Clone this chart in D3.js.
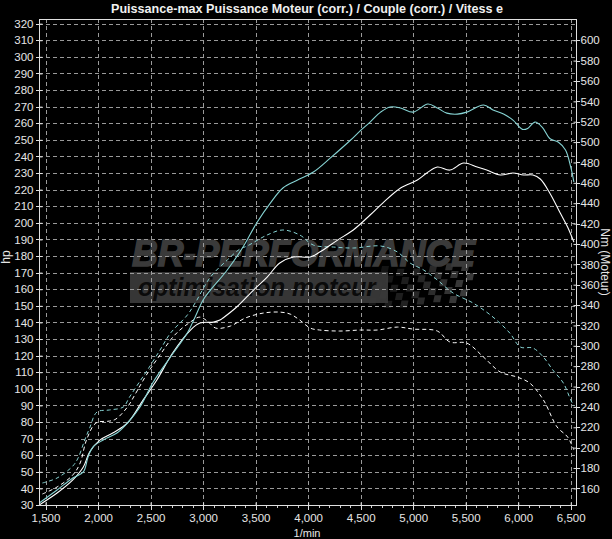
<!DOCTYPE html>
<html><head><meta charset="utf-8">
<script src="https://cdn.jsdelivr.net/npm/d3@7"></script>
<style>html,body{margin:0;padding:0;background:#000;} svg{display:block;}</style>
</head><body><svg id="c" width="612" height="539"></svg>
<script>
// ---- data ----
const rpmTicks = [1500,2000,2500,3000,3500,4000,4500,5000,5500,6000,6500];
const rpmLabels = ["1,500","2,000","2,500","3,000","3,500","4,000","4,500","5,000","5,500","6,000","6,500"];
const hpTicks = [30,40,50,60,70,80,90,100,110,120,130,140,150,160,170,180,190,200,210,220,230,240,250,260,270,280,290,300,310,320];
const nmTicks = [160,180,200,220,240,260,280,300,320,340,360,380,400,420,440,460,480,500,520,540,560,580,600];

// Power (hp) – modified run (cyan solid)
const power1Rpm = [1440,1610,1760,1860,1905,1950,2050,2180,2280,2400,2520,2690,2850,2920,3000,3070,3230,3380,3510,3640,3760,3900,4050,4210,4400,4500,4590,4690,4780,4880,5000,5140,5230,5320,5420,5510,5670,5760,5860,5950,6040,6090,6160,6230,6300,6380,6450,6500,6530];
const power1Hp  = [31.2,39.0,46.3,49.9,58.9,64.9,69.2,73.4,79.4,89.0,103.5,119.2,133.6,142.7,153.5,159.5,171.6,185.4,199.9,211.9,221.0,225.8,230.6,239.0,249.6,255.7,260.7,266.7,269.8,269.2,266.7,271.6,269.2,266.1,265.5,266.7,271.0,268.0,265.5,261.9,256.3,256.9,260.7,257.5,250.8,248.7,243.9,233.6,224.6];

// Power (hp) – original run (white solid)
const power2Rpm = [1440,1610,1760,1860,1920,2020,2140,2280,2430,2560,2710,2880,2970,3100,3160,3190,3320,3480,3610,3730,3860,4020,4110,4280,4430,4590,4710,4880,5040,5130,5230,5350,5480,5610,5700,5830,5950,6050,6140,6210,6300,6400,6470,6530];
const power2Hp  = [30.0,37.2,45.1,52.9,61.9,69.2,73.4,79.4,93.3,105.3,121.6,135.4,139.6,140.2,141.4,142.7,149.3,159.5,167.3,175.8,179.4,179.4,182.4,189.6,195.7,204.7,211.9,221.0,225.8,230.0,233.6,231.8,236.0,233.6,231.8,228.8,230.0,228.8,228.8,226.4,218.0,205.9,197.5,188.4];

// Torque (Nm) – modified run (cyan dashed)
const torque1Rpm = [1470,1610,1760,1810,1870,1920,1990,2110,2240,2300,2400,2470,2590,2690,2850,2930,3070,3230,3350,3420,3610,3760,3920,4050,4240,4430,4690,4850,4970,5100,5230,5380,5570,5760,5920,6020,6140,6240,6330,6430,6500,6530];
const torque1Nm  = [165.3,170.2,182.0,189.8,206.5,219.3,235.0,237.0,239.9,249.7,265.4,276.2,295.8,312.5,330.2,343.0,367.5,384.2,395.0,398.0,408.8,413.7,408.8,398.9,397.0,396.0,398.0,392.1,381.3,374.4,364.6,351.8,342.0,328.2,312.5,298.8,297.8,288.9,276.2,263.4,246.8,240.9];

// Torque (Nm) – original run (white dashed)
const torque2Rpm = [1470,1610,1760,1830,1890,1980,2110,2170,2280,2360,2460,2590,2730,2880,2970,3050,3120,3260,3400,3570,3730,3830,3920,4020,4110,4300,4500,4660,4850,5000,5230,5350,5510,5670,5830,5990,6110,6240,6370,6470,6530];
const torque2Nm  = [154.5,161.4,173.2,185.0,207.5,224.2,226.1,228.1,239.9,253.6,271.3,291.0,310.6,323.4,328.2,323.4,317.4,319.4,327.2,332.1,333.1,331.1,325.3,317.4,315.5,314.5,315.5,315.5,318.4,316.4,314.5,303.7,302.7,288.9,274.2,269.3,263.4,246.8,220.3,210.5,197.8];

// ---- layout ----
const L = 39, R = 576, T = 19, B = 505;
const svg = d3.select('#c');
svg.append('rect').attr('width',612).attr('height',539).attr('fill','#000');

const x = d3.scaleLinear().domain([1438, 6550]).range([L, R]);
const yHp = d3.scaleLinear().domain([30, 322.8]).range([B, T]);
const yNm = d3.scaleLinear().domain([160, 600]).range([yHp(40), yHp(310)]);

const narrow = '"Liberation Sans Narrow","Arial Narrow","Liberation Sans",Arial,sans-serif';
const txtCol = '#e6e6e6';

// ---- watermark ----
const wm = svg.append('g');
wm.append('text').attr('x',132).attr('y',266).text('BR-PERFORMANCE')
  .attr('font-family','"Liberation Sans",Arial,sans-serif').attr('font-weight','bold').attr('font-style','italic')
  .attr('font-size',37).attr('fill','#3a3a3a').attr('stroke','#3a3a3a').attr('stroke-width',1.6)
  .attr('textLength',343).attr('lengthAdjust','spacingAndGlyphs');
wm.append('rect').attr('x',130).attr('y',272).attr('width',258).attr('height',31).attr('fill','#363636');
wm.append('text').attr('x',138).attr('y',296).text('optimisation moteur')
  .attr('font-family','"Liberation Sans",Arial,sans-serif').attr('font-weight','bold').attr('font-style','italic')
  .attr('font-size',25).attr('fill','#0b0b0b').attr('textLength',238).attr('lengthAdjust','spacingAndGlyphs');
// checkered flag
const flag = wm.append('g');
for (let i = 0; i < 12; i++) {
  for (let j = 0; j < 5; j++) {
    if ((i + j) % 2 !== 0) continue;
    const off = Math.sin(i * 0.55) * 3;
    flag.append('rect')
      .attr('x', 382 + i * 8 - j * 3).attr('y', 266 + j * 8 + off)
      .attr('width', 7).attr('height', 7)
      .attr('fill', '#3a3a3a').attr('opacity', 0.35 + 0.65 * i / 11)
      .attr('transform', `skewX(-12)`).attr('transform-origin', `${382 + i*8} ${266 + j*8}`);
  }
}

// ---- grid ----
const grid = svg.append('g').attr('stroke','#9a9a9a').attr('stroke-width',1).attr('stroke-dasharray','4,3').attr('shape-rendering','crispEdges');
hpTicks.filter(v => v > 30).forEach(v => {
  const yy = Math.round(yHp(v)) + 0.5;
  grid.append('line').attr('x1',L).attr('x2',R).attr('y1',yy).attr('y2',yy);
});
rpmTicks.forEach(v => {
  const xx = Math.round(x(v)) + 0.5;
  grid.append('line').attr('x1',xx).attr('x2',xx).attr('y1',T).attr('y2',B);
});

// ---- curves ----
svg.append('clipPath').attr('id','clip').append('rect').attr('x',L).attr('y',T).attr('width',R-L).attr('height',B-T);
const plot = svg.append('g').attr('clip-path','url(#clip)');
const lineHp = d3.line().x(d => x(d[0])).y(d => yHp(d[1])).curve(d3.curveCatmullRom.alpha(0.5));
const lineNm = d3.line().x(d => x(d[0])).y(d => yNm(d[1])).curve(d3.curveCatmullRom.alpha(0.5));
const zip = (a, b) => a.map((v, i) => [v, b[i]]);
const cyan = '#86d3d3';
plot.append('path').attr('d', lineNm(zip(torque2Rpm, torque2Nm))).attr('fill','none').attr('stroke','#ffffff').attr('stroke-width',1).attr('stroke-dasharray','4,3');
plot.append('path').attr('d', lineNm(zip(torque1Rpm, torque1Nm))).attr('fill','none').attr('stroke',cyan).attr('stroke-width',1).attr('stroke-dasharray','4,3');
plot.append('path').attr('d', lineHp(zip(power2Rpm, power2Hp))).attr('fill','none').attr('stroke','#ffffff').attr('stroke-width',1.1);
plot.append('path').attr('d', lineHp(zip(power1Rpm, power1Hp))).attr('fill','none').attr('stroke',cyan).attr('stroke-width',1.1);

// ---- frame ----
const frame = svg.append('g').attr('stroke','#e0e0e0').attr('stroke-width',1).attr('shape-rendering','crispEdges');
frame.append('line').attr('x1',L+0.5).attr('x2',L+0.5).attr('y1',T).attr('y2',B+1);
frame.append('line').attr('x1',R+0.5).attr('x2',R+0.5).attr('y1',T).attr('y2',B+1);
frame.append('line').attr('x1',L).attr('x2',R+1).attr('y1',T+0.5).attr('y2',T+0.5);
frame.append('line').attr('x1',L).attr('x2',R+1).attr('y1',B+0.5).attr('y2',B+0.5);

// ---- axes ----
const axL = svg.append('g').attr('transform',`translate(${L+0.5},0)`)
  .call(d3.axisLeft(yHp).tickValues(hpTicks).tickSize(4).tickPadding(2).tickFormat(d3.format('d')));
const axR = svg.append('g').attr('transform',`translate(${R+0.5},0)`)
  .call(d3.axisRight(yNm).tickValues(nmTicks).tickSize(3).tickPadding(1).tickFormat(d3.format('d')));
const axB = svg.append('g').attr('transform',`translate(0,${B+0.5})`)
  .call(d3.axisBottom(x).tickValues(rpmTicks).tickSize(4).tickPadding(4).tickFormat((d,i) => rpmLabels[i]));
[axL, axR, axB].forEach(a => {
  a.select('.domain').remove();
  a.selectAll('line').attr('stroke','#e0e0e0').attr('shape-rendering','crispEdges');
  a.selectAll('text').attr('fill',txtCol).attr('font-family',narrow).attr('font-size',11.5);
});
// tick cross extensions
axL.selectAll('.tick').append('line').attr('x1',0).attr('x2',3).attr('stroke','#e0e0e0');
axR.selectAll('.tick').append('line').attr('x1',-3).attr('x2',0).attr('stroke','#e0e0e0');
axB.selectAll('.tick').append('line').attr('y1',-3).attr('y2',0).attr('stroke','#e0e0e0');
// minor rpm ticks
const minor = svg.append('g').attr('stroke','#cfcfcf').attr('shape-rendering','crispEdges');
d3.range(1500, 6501, 100).filter(v => v % 500 !== 0).forEach(v => {
  const xx = Math.round(x(v)) + 0.5;
  minor.append('line').attr('x1',xx).attr('x2',xx).attr('y1',B+1).attr('y2',B+3);
});

// ---- titles ----
svg.append('text').attr('x',307).attr('y',13).attr('text-anchor','middle')
  .attr('font-family',narrow).attr('font-weight','bold').attr('font-size',13.5).attr('fill','#f0f0f0')
  .attr('textLength',392).attr('lengthAdjust','spacingAndGlyphs')
  .text('Puissance-max Puissance Moteur (corr.) / Couple (corr.) / Vitess e');
svg.append('text').attr('x',307).attr('y',537).attr('text-anchor','middle')
  .attr('font-family',narrow).attr('font-size',11).attr('fill',txtCol).text('1/min');
svg.append('text').attr('transform','translate(10,257) rotate(-90)').attr('text-anchor','middle')
  .attr('font-family',narrow).attr('font-size',12).attr('fill',txtCol).text('hp');
svg.append('text').attr('transform','translate(601,262) rotate(90)').attr('text-anchor','middle')
  .attr('font-family',narrow).attr('font-size',12).attr('fill',txtCol).text('Nm (Moteur)');
</script>
</body></html>
